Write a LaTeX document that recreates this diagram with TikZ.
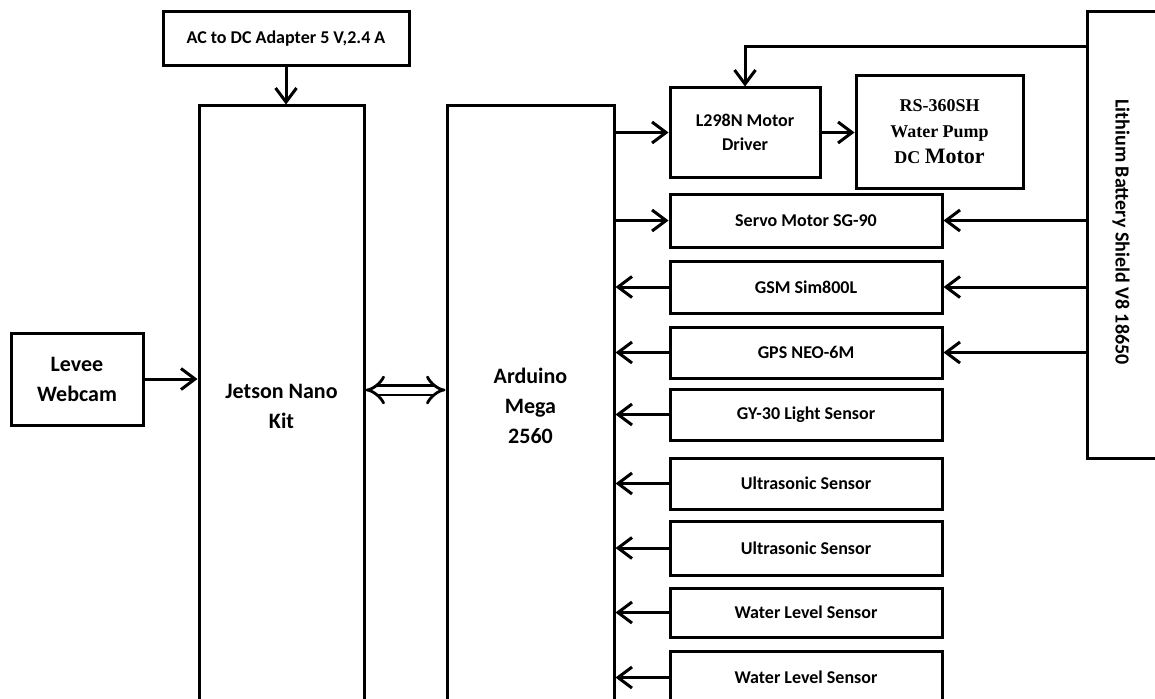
\documentclass[tikz,border=0pt]{standalone}
\usepackage{fontspec}
\setmainfont{Carlito}
\newfontfamily\tnr{Liberation Serif}
\usetikzlibrary{arrows.meta}
\begin{document}
\begin{tikzpicture}[x=1pt,y=-1pt,
  box/.style={draw, line width=3pt, rectangle, inner sep=0pt, align=center,
    font=\bfseries\fontsize{18}{24}\selectfont},
  sbox/.style={box, minimum width=272pt},
  bigbox/.style={box, font=\bfseries\fontsize{22}{30}\selectfont},
  arr/.style={line width=3pt, -{Straight Barb[length=14pt,width=21pt]}},
  dbl/.style={double, double distance=7pt, line width=2.8pt, {Implies}-{Implies}},
]
\useasboundingbox (0,0) rectangle (1155,698);
\fill[white] (0,0) rectangle (1155,698);
\clip (0,0) rectangle (1155,698);

\node[box, minimum width=246pt, minimum height=54pt] (adapter) at (286,39) {AC to DC Adapter 5 V,2.4 A};
\node[bigbox, minimum width=165pt, minimum height=600pt] (jetson) at (281.5,406) {Jetson Nano\\Kit};
\node[bigbox, minimum width=167pt, minimum height=600pt] (arduino) at (530.5,406) {Arduino\\Mega\\2560};
\node[bigbox, minimum width=132pt, minimum height=92pt] (levee) at (77,379) {Levee\\Webcam};
\node[box, minimum width=73pt, minimum height=446pt] (battery) at (1123.5,235) {};
\node[rotate=-90, font=\bfseries\fontsize{20}{24}\selectfont] (battxt) at (1121,232) {Lithium Battery Shield V8 18650};

\node[box, minimum width=150pt, minimum height=89pt] (l298n) at (745,132.5) {L298N Motor\\Driver};
\node[box, minimum width=167pt, minimum height=112pt, font=\tnr\bfseries\fontsize{18}{26}\selectfont] (pump) at (939.5,132)
  {\raisebox{8pt}{\begin{tabular}{@{}c@{}}RS-360SH\\Water Pump\\DC {\fontsize{22}{26}\selectfont Motor}\end{tabular}}};

\node[sbox, minimum height=53pt] (servo) at (806,220.5) {Servo Motor SG-90};
\node[sbox, minimum height=52pt] (gsm) at (806,287) {GSM Sim800L};
\node[sbox, minimum height=51pt] (gps) at (806,352.5) {GPS NEO-6M};
\node[sbox, minimum height=51pt] (gy30) at (806,414.5) {GY-30 Light Sensor};
\node[sbox, minimum height=51pt] (us1) at (806,483.5) {Ultrasonic Sensor};
\node[sbox, minimum height=54pt] (us2) at (806,548) {Ultrasonic Sensor};
\node[sbox, minimum height=49pt] (wl1) at (806,612.5) {Water Level Sensor};
\node[sbox, minimum height=53pt] (wl2) at (806,677.5) {Water Level Sensor};

\coordinate (dy) at (400,390);
\coordinate (rail) at (742,47);

\draw[arr] (adapter.south) -- (adapter.south |- jetson.north);
\draw[arr] (levee.east) -- (levee.east -| jetson.west);
\draw[dbl] (jetson.east |- dy) -- (arduino.west |- dy);
\draw[arr] (arduino.east |- l298n.west) -- (l298n.west);
\draw[arr] (l298n.east) -- (pump.west |- l298n.east);
\draw[arr] (arduino.east |- servo.west) -- (servo.west);
\foreach \s in {gsm,gps,gy30,us1,us2,wl1,wl2}
  \draw[arr] (\s.west) -- (\s.west -| arduino.east);
\foreach \s in {servo,gsm,gps}
  \draw[arr] (\s.east -| battery.west) -- (\s.east);
\draw[arr] (battery.west |- rail) -| (l298n.north);
\end{tikzpicture}
\end{document}
